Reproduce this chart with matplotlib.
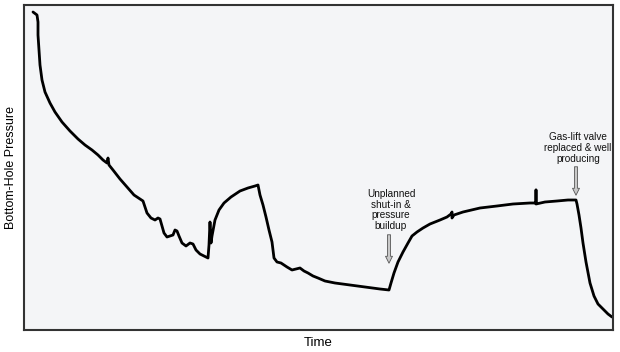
import matplotlib
matplotlib.use("Agg")
import matplotlib.pyplot as plt

plt.rcParams['font.family'] = ['Liberation Sans', 'DejaVu Sans']

# Time (arbitrary units) and bottom-hole pressure (arbitrary units)
time = [9, 13, 14, 14, 15, 16, 18, 21, 26, 31, 38, 46, 54, 61, 68, 74, 79, 83, 84, 85, 89,
        96, 103, 110, 116, 119, 121, 123, 127, 131, 134, 136, 138, 140, 143, 146, 149, 151,
        153, 155, 158, 162, 166, 169, 172, 176, 180, 184, 185, 186, 187, 188, 191, 195, 200,
        207, 216, 224, 231, 234, 236, 239, 242, 245, 248, 250, 253, 257, 263, 268, 272, 276,
        280, 284, 289, 294, 301, 311, 326, 341, 356, 365, 367, 370, 374, 379, 384, 388, 393,
        399, 406, 416, 423, 427, 428, 428, 430, 439, 456, 473, 489, 506, 512, 512, 512, 521,
        533, 544, 552, 553, 555, 557, 559, 562, 566, 570, 574, 579, 584, 588]
pressure = [318, 315, 308, 295, 280, 265, 250, 238, 227, 218, 208, 199, 191, 185, 180, 175,
            170, 167, 172, 165, 160, 151, 143, 135, 131, 129, 123, 117, 112, 110, 112, 111,
            104, 97, 93, 94, 95, 100, 99, 94, 87, 84, 87, 86, 80, 76, 74, 72, 85, 108, 87, 94,
            110, 120, 127, 133, 139, 142, 144, 145, 135, 125, 113, 100, 88, 72, 68, 67, 63, 60,
            61, 62, 59, 57, 54, 52, 49, 47, 45, 43, 41, 40, 47, 57, 68, 78, 87, 94, 98, 102,
            106, 110, 113, 116, 118, 112, 115, 118, 122, 124, 126, 127, 127, 140, 126, 128,
            129, 130, 130, 126, 115, 102, 87, 68, 47, 34, 26, 21, 16, 13]

notes = ["Unplanned\nshut-in &\npressure\nbuildup", "Gas-lift valve\nreplaced & well\nproducing"]
note_time = [365, 552]
note_text_y = [120, 182]
note_tail_y = [98, 166]
note_head_y = [64, 132]

fig = plt.figure(figsize=(6.2, 3.52), dpi=100)
ax = fig.add_axes([24/620, 22/352, 589/620, 325/352])
ax.set_facecolor('#f4f5f7')
fig.patch.set_facecolor('white')

ax.plot(time, pressure, color='black', lw=2.0, solid_joinstyle='round', solid_capstyle='round')

ax.set_xlim(0, 589)
ax.set_ylim(0, 325)
ax.set_xticks([])
ax.set_yticks([])
for s in ax.spines.values():
    s.set_color('#333333')
    s.set_linewidth(1.5)

for txt, t, ty, tail, head in zip(notes, note_time, note_text_y, note_tail_y, note_head_y):
    ax.text(t + 2, ty, txt, ha='center', va='center', fontsize=7.2, linespacing=1.12,
            color='#111111')
    ax.annotate('', xy=(t, head), xytext=(t, tail),
                arrowprops=dict(arrowstyle='simple,head_length=0.5,head_width=0.5,tail_width=0.22',
                                fc='#c8c8c8', ec='#555555', lw=0.6))

ax.set_xlabel('Time', fontsize=9.5, labelpad=5)
ax.set_ylabel('Bottom-Hole Pressure', fontsize=9, labelpad=5)

fig.savefig('out.png', dpi=100)
